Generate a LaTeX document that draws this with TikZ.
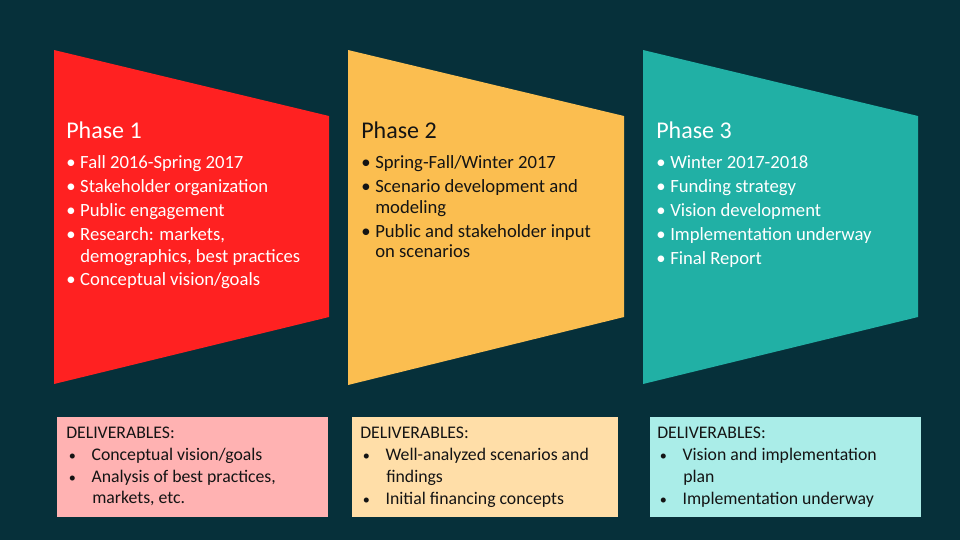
\documentclass[tikz,border=0pt]{standalone}
\usepackage{fontspec}
\setmainfont{Carlito}
\definecolor{bg}{HTML}{06303A}
\definecolor{pred}{HTML}{FF2121}
\definecolor{pyel}{HTML}{FBBE50}
\definecolor{pteal}{HTML}{21B0A5}
\definecolor{dred}{HTML}{FFB2B2}
\definecolor{dyel}{HTML}{FFDEA8}
\definecolor{dteal}{HTML}{AAEDE8}
\definecolor{ink}{HTML}{141414}
\newcommand\pb{\makebox[10.5pt][l]{•}}
\newcommand\db{\makebox[19pt][l]{\hspace{2pt}\scalebox{0.8}{•}}}
\begin{document}
\begin{tikzpicture}[x=0.75pt,y=-0.75pt,
  ttl/.style={anchor=base west,inner sep=0pt,font=\fontsize{18}{21}\selectfont},
  itm/.style={anchor=base west,inner sep=0pt,font=\fontsize{14}{16}\selectfont},
  dlv/.style={anchor=base west,inner sep=0pt,font=\fontsize{13.3}{15}\selectfont,text=ink}]
\fill[bg] (0,0) rectangle (960,540);
\useasboundingbox (0,0) rectangle (960,540);
% phase shapes
\fill[pred]  (54,50) -- (329,116) -- (329,317) -- (54,384) -- cycle;
\fill[pyel]  (348,50) -- (624,116) -- (624,317) -- (348,385) -- cycle;
\fill[pteal] (643,50) -- (918,116) -- (918,317) -- (643,384) -- cycle;
% deliverable boxes
\fill[dred]  (57,417) rectangle (328,517);
\fill[dyel]  (352,417) rectangle (618,517);
\fill[dteal] (650,417) rectangle (921,517);
% Phase 1
\begin{scope}[every node/.append style={text=white}]
\node[ttl] (p1t) at (66,138) {Phase 1};
\node[itm] (p1a) at (66,168) {\pb Fall 2016-Spring 2017};
\node[itm] (p1b) at (66,192.5) {\pb Stakeholder organization};
\node[itm] (p1c) at (66,216.5) {\pb Public engagement};
\node[itm] (p1d) at (66,240.5) {\pb Research: markets,};
\node[itm] (p1e) at (80,262) {demographics, best practices};
\node[itm] (p1f) at (66,285.5) {\pb Conceptual vision/goals};
\end{scope}
% Phase 2
\begin{scope}[every node/.append style={text=ink}]
\node[ttl] (p2t) at (361,138) {Phase 2};
\node[itm] (p2a) at (361,168) {\pb Spring-Fall/Winter 2017};
\node[itm] (p2b) at (361,192) {\pb Scenario development and};
\node[itm] (p2c) at (375,213) {modeling};
\node[itm] (p2d) at (361,237) {\pb Public and stakeholder input};
\node[itm] (p2e) at (375,257) {on scenarios};
\end{scope}
% Phase 3
\begin{scope}[every node/.append style={text=white}]
\node[ttl] (p3t) at (656,138) {Phase 3};
\node[itm] (p3a) at (656,168) {\pb Winter 2017-2018};
\node[itm] (p3b) at (656,192) {\pb Funding strategy};
\node[itm] (p3c) at (656,216) {\pb Vision development};
\node[itm] (p3d) at (656,240) {\pb Implementation underway};
\node[itm] (p3e) at (656,264) {\pb Final Report};
\end{scope}
% Deliverables 1
\node[dlv] (d1t) at (66,438) {DELIVERABLES:};
\node[dlv] (d1a) at (66,460) {\db Conceptual vision/goals};
\node[dlv] (d1b) at (66,482) {\db Analysis of best practices,};
\node[dlv] (d1c) at (92,503.5) {markets, etc.};
% Deliverables 2
\node[dlv] (d2t) at (360,438) {DELIVERABLES:};
\node[dlv] (d2a) at (360,460) {\db Well-analyzed scenarios and};
\node[dlv] (d2b) at (386,482) {findings};
\node[dlv] (d2c) at (360,504) {\db Initial financing concepts};
% Deliverables 3
\node[dlv] (d3t) at (657,438) {DELIVERABLES:};
\node[dlv] (d3a) at (657,460) {\db Vision and implementation};
\node[dlv] (d3b) at (683,482) {plan};
\node[dlv] (d3c) at (657,504) {\db Implementation underway};
\end{tikzpicture}
\end{document}
